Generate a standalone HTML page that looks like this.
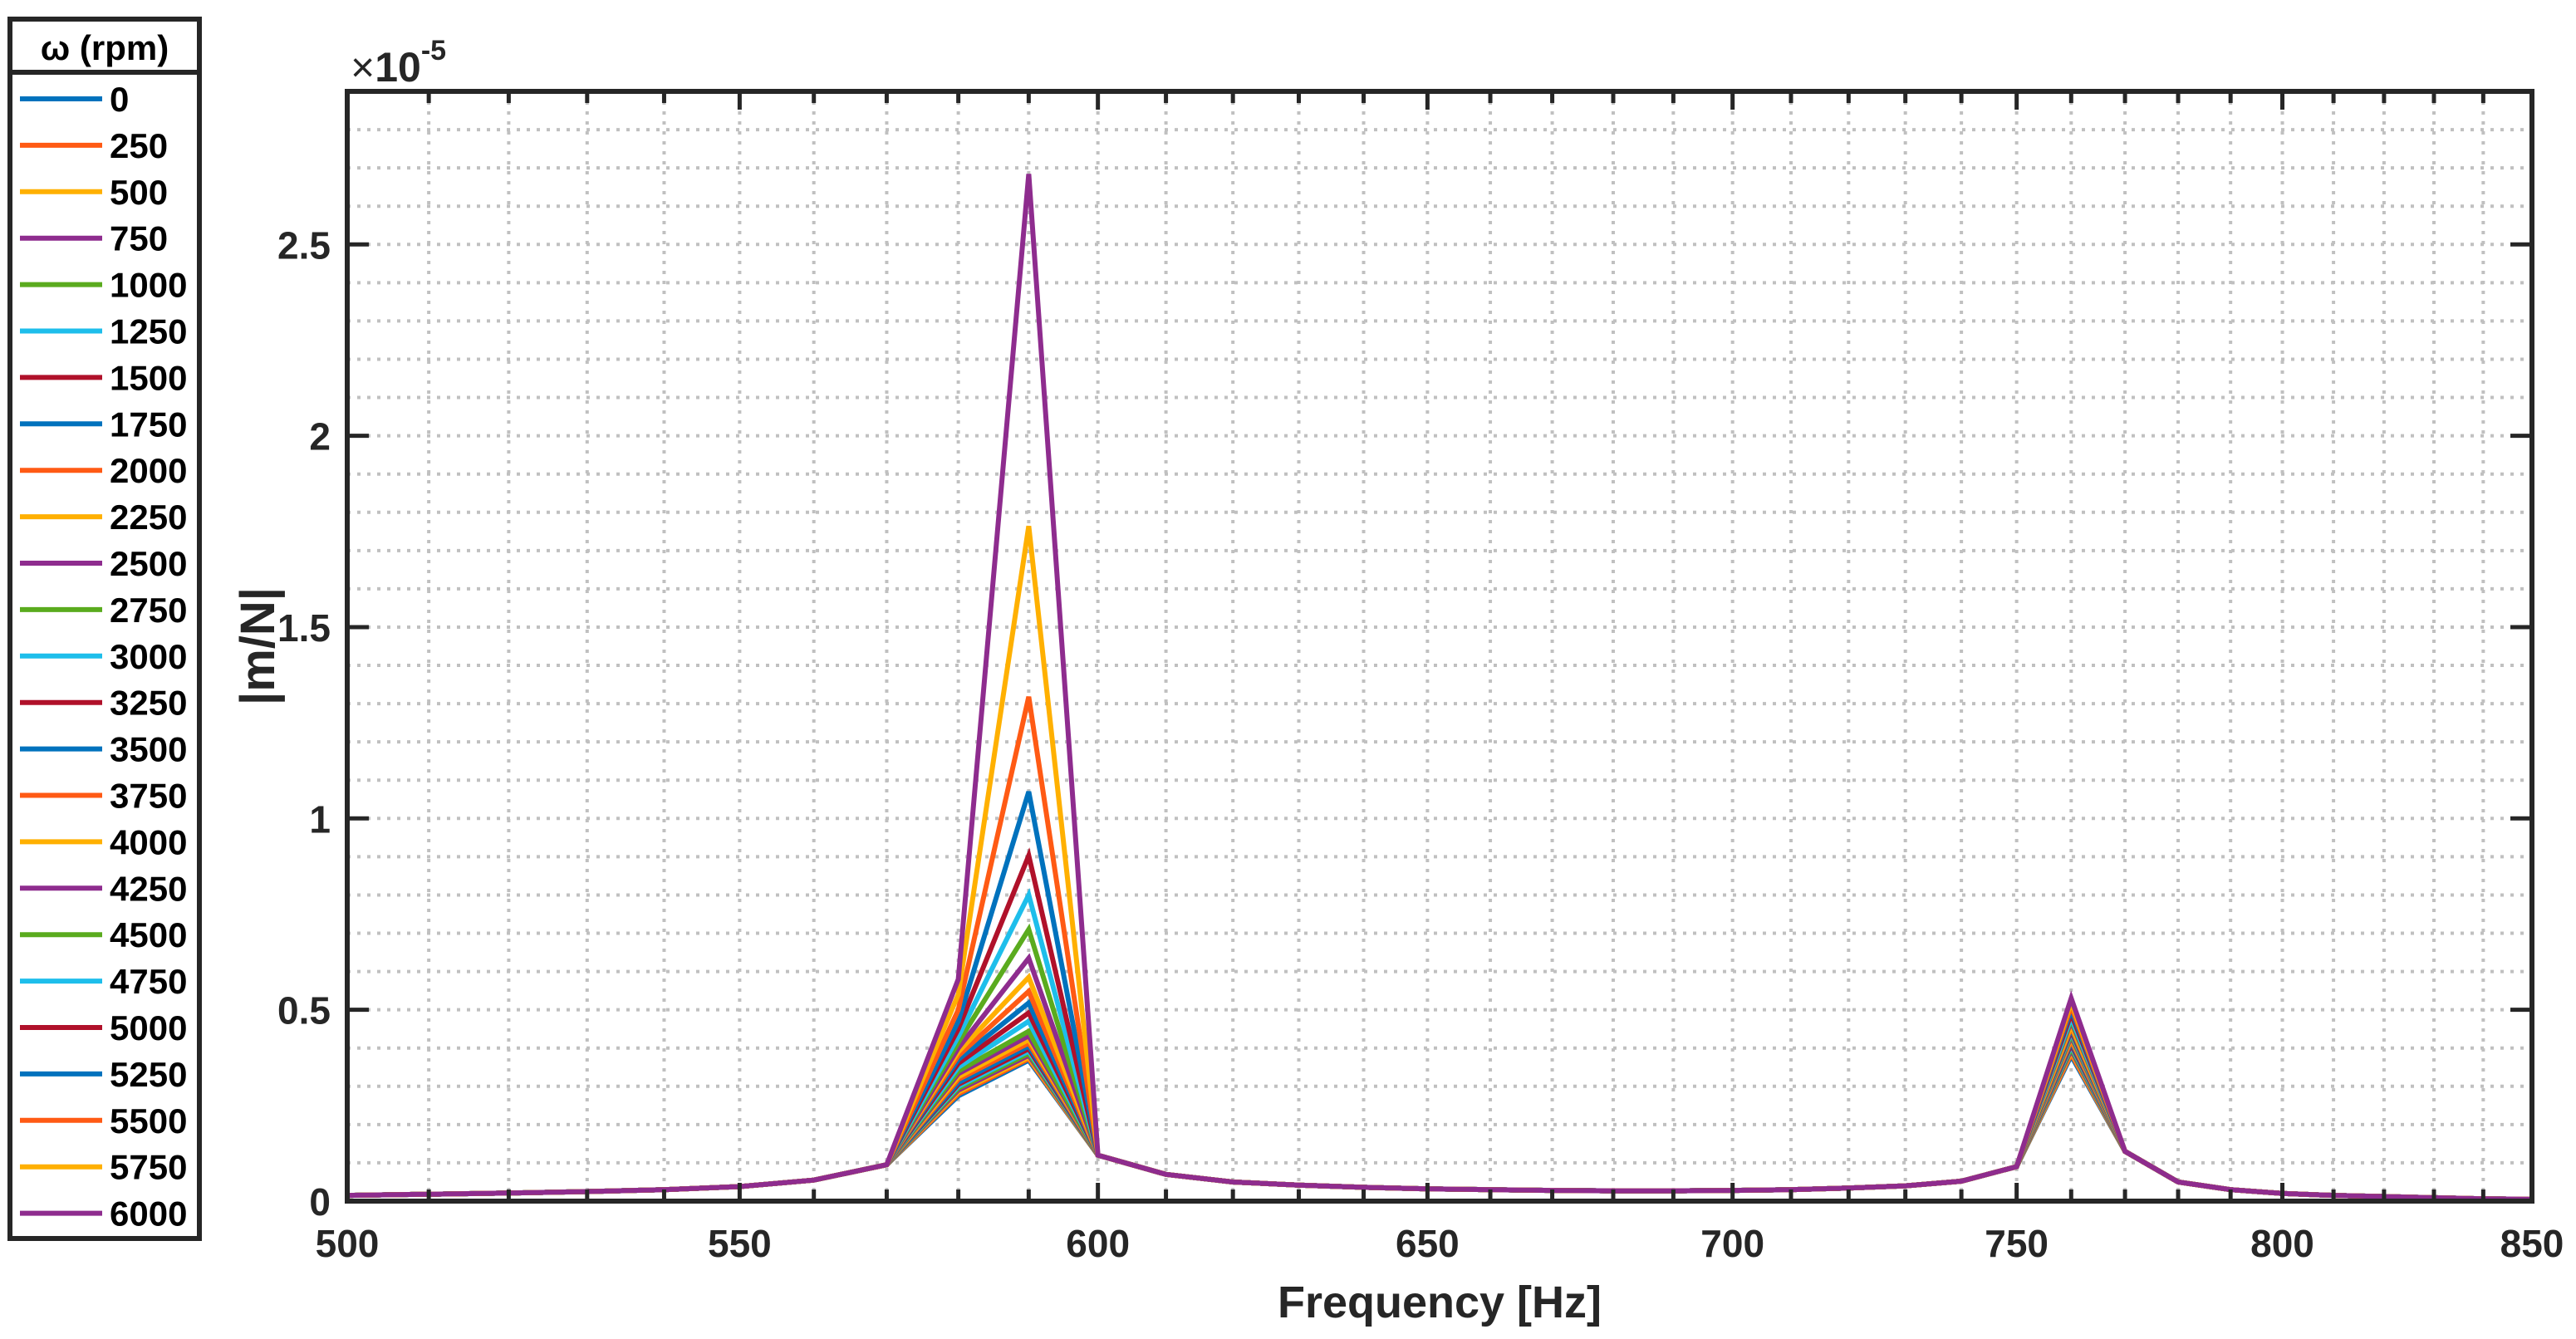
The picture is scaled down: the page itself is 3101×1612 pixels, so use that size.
<!DOCTYPE html>
<html><head><meta charset="utf-8"><style>
html,body{margin:0;padding:0;background:#fff;}
svg{display:block;font-family:"Liberation Sans",Arial,sans-serif;font-weight:bold;}
</style></head><body>
<svg id="chart" width="3101" height="1612" viewBox="0 0 3101 1612" xmlns="http://www.w3.org/2000/svg">
<rect width="3101" height="1612" fill="#fff"/>
<g id="grid"></g>
<g id="series"></g>
<g id="axes"></g>
<g id="legend"></g>
<text x="1733" y="1586" font-size="54" text-anchor="middle" fill="#262626">Frequency [Hz]</text>
<text x="0" y="0" font-size="58" text-anchor="middle" fill="#262626" transform="translate(330,778) rotate(-90)">|m/N|</text>
<text x="422" y="98" font-size="50" fill="#262626" font-weight="normal">×<tspan font-weight="bold">10</tspan><tspan font-size="34" dy="-26" font-weight="bold">-5</tspan></text>
</svg>
<script>
const freqs = [500,510,520,530,540,550,560,570,580,590,600,610,620,630,640,650,660,670,680,690,700,710,720,730,740,750,760,770,780,790,800,810,820,830,840,850];
const baseline = [0.015,0.018,0.021,0.025,0.030,0.038,0.055,0.095,null,null,0.12,0.07,0.05,0.042,0.036,0.032,0.030,0.028,0.027,0.027,0.028,0.030,0.034,0.040,0.052,0.09,null,0.13,0.05,0.03,0.02,0.015,0.012,0.009,0.006,0.005];
const speeds = [0,250,500,750,1000,1250,1500,1750,2000,2250,2500,2750,3000,3250,3500,3750,4000,4250,4500,4750,5000,5250,5500,5750,6000];
const peak590 = [0.368,0.372,0.376,0.381,0.386,0.392,0.398,0.405,0.413,0.422,0.432,0.444,0.47,0.492,0.518,0.548,0.585,0.635,0.71,0.80,0.903,1.07,1.318,1.764,2.684];
const val580 = [0.275,0.28,0.285,0.29,0.295,0.30,0.305,0.31,0.318,0.325,0.333,0.34,0.35,0.36,0.37,0.38,0.39,0.40,0.415,0.43,0.45,0.47,0.50,0.54,0.58];
const peak760 = [0.38,0.385,0.39,0.395,0.40,0.405,0.41,0.415,0.42,0.425,0.43,0.435,0.44,0.445,0.45,0.455,0.46,0.47,0.475,0.48,0.49,0.50,0.51,0.52,0.53];
const colors = ["#0072BD","#FF5A14","#FFB000","#8E2C8E","#5AAB1E","#1EBEEB","#B0112A"];
const xTicks = [500,550,600,650,700,750,800,850];
const yTicks = [0,0.5,1,1.5,2,2.5];
const yTickLabels = ["0","0.5","1","1.5","2","2.5"];

const L=418,R=3048,T=110,B=1446,YMAX=2.9;
const NS="http://www.w3.org/2000/svg";
function X(f){return L+(Math.log(f/500)/Math.log(850/500))*(R-L);}
function Y(v){return B-(v/YMAX)*(B-T);}
function mk(tag,attrs,parent){const e=document.createElementNS(NS,tag);for(const k in attrs)e.setAttribute(k,attrs[k]);parent.appendChild(e);return e;}

const grid=document.getElementById('grid');
for(const f of freqs){
  const ln=mk('line',{x1:X(f),x2:X(f),y1:T,y2:B,stroke:"#c0c0c0","stroke-width":4,"stroke-dasharray":"4 8"},grid);
  
  
}
for(let i=1;i<=28;i++){
  const v=i/10;
  const ln=mk('line',{x1:L,x2:R,y1:Y(v),y2:Y(v),stroke:"#c0c0c0","stroke-width":4,"stroke-dasharray":"4 8"},grid);
  
  
}

const sg=document.getElementById('series');
speeds.forEach((s,i)=>{
  const pts=freqs.map((f,j)=>{
    let v=baseline[j];
    if(f===580)v=val580[i];
    if(f===590)v=peak590[i];
    if(f===760)v=peak760[i];
    return X(f).toFixed(1)+","+Y(v).toFixed(1);
  }).join(" ");
  const pl=mk('polyline',{points:pts,fill:"none",stroke:colors[i%7],"stroke-width":6,"stroke-linejoin":"miter"},sg);
  
  
});

const ax=document.getElementById('axes');
const box=mk('rect',{x:L,y:T,width:R-L,height:B-T,fill:"none",stroke:"#262626","stroke-width":6},ax);


for(const f of freqs){
  const major=xTicks.includes(f);
  const len=major?22:14;
  mk('line',{x1:X(f),x2:X(f),y1:B,y2:B-len,stroke:"#262626","stroke-width":5},ax);
  mk('line',{x1:X(f),x2:X(f),y1:T,y2:T+len,stroke:"#262626","stroke-width":5},ax);
}
xTicks.forEach(f=>{
  const t=mk('text',{x:X(f),y:1513,"font-size":46,"text-anchor":"middle",fill:"#262626"},ax);
  t.textContent=String(f);
  
  
});
yTicks.forEach((v,i)=>{
  mk('line',{x1:L,x2:L+26,y1:Y(v),y2:Y(v),stroke:"#262626","stroke-width":5},ax);
  mk('line',{x1:R,x2:R-26,y1:Y(v),y2:Y(v),stroke:"#262626","stroke-width":5},ax);
  const t=mk('text',{x:398,y:Y(v)+17,"font-size":46,"text-anchor":"end",fill:"#262626"},ax);
  t.textContent=yTickLabels[i];
  
  
});

const lg=document.getElementById('legend');
const lb=mk('rect',{x:12,y:23,width:228,height:1468,fill:"#fff",stroke:"#262626","stroke-width":6},lg);


mk('line',{x1:12,x2:240,y1:87,y2:87,stroke:"#262626","stroke-width":6},lg);
const ht=mk('text',{x:126,y:72,"font-size":42,"text-anchor":"middle",fill:"#000"},lg);
ht.textContent="ω (rpm)";


speeds.forEach((s,i)=>{
  const y=119+i*55.9;
  const g=mk('g',{},lg);
  
  
  mk('line',{x1:24,x2:123,y1:y,y2:y,stroke:colors[i%7],"stroke-width":6},g);
  const t=mk('text',{x:132,y:y+15,"font-size":42,fill:"#000"},g);
  t.textContent=String(s);
});
</script>
</body></html>
